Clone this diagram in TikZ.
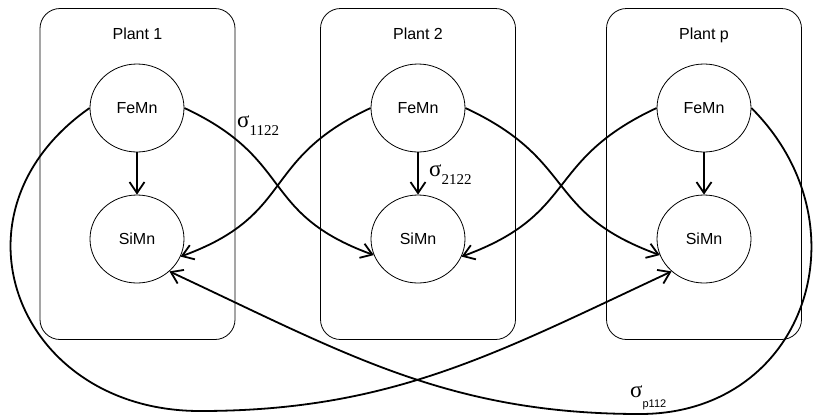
\documentclass[tikz,border=0pt]{standalone}
\usepackage{fontspec}
\setmainfont{Liberation Sans}
\newfontfamily\grkfont{Liberation Serif}
\usetikzlibrary{arrows.meta,shapes.geometric}

\tikzset{
  plantbox/.style={draw,line width=0.8bp,rounded corners=20bp,minimum width=195bp,minimum height=331bp,inner sep=0pt},
  elem/.style={draw,ellipse,line width=0.8bp,minimum width=94bp,minimum height=88bp,inner sep=0pt,font=\fontsize{16bp}{19bp}\selectfont},
  plantlabel/.style={anchor=base,inner sep=0pt,font=\fontsize{16bp}{19bp}\selectfont},
  link/.style={line width=1.8bp,-{Straight Barb[length=11bp,width=15bp]}},
  siglabel/.style={anchor=base west,inner sep=0pt}
}
\newcommand{\sigmark}{{\grkfont\fontsize{23bp}{23bp}\selectfont σ}}

\begin{document}
\begin{tikzpicture}[x=1bp,y=1bp]
\useasboundingbox (0,0) rectangle (814,-417);

\node[plantbox] (b1) at (137.5,-174) {};
\node[plantbox] (b2) at (418,-174) {};
\node[plantbox] (bp) at (704,-174) {};
\node[plantlabel] (t1) at (137.5,-39) {Plant 1};
\node[plantlabel] (t2) at (418,-39) {Plant 2};
\node[plantlabel] (tp) at (704,-39) {Plant p};

\node[elem] (f1) at (137,-108) {FeMn};
\node[elem] (s1) at (137,-239) {SiMn};
\node[elem] (f2) at (418,-108) {FeMn};
\node[elem] (s2) at (418,-239) {SiMn};
\node[elem] (fp) at (704,-108) {FeMn};
\node[elem] (sp) at (704,-239) {SiMn};

\coordinate (lo1) at (200,-411);
\coordinate (lo2) at (640,-414);

\draw[link] (f1) -- (s1);
\draw[link] (f2) -- (s2);
\draw[link] (fp) -- (sp);

\draw[link] (f1.east) to[out=-25,in=160,looseness=1.3] (s2.200);
\draw[link] (f2.west) to[out=205,in=20,looseness=1.3] (s1.-22);
\draw[link] (f2.east) to[out=-25,in=160,looseness=1.3] (sp.200);
\draw[link] (fp.west) to[out=205,in=20,looseness=1.3] (s2.-22);
\draw[link] (f1.west) to[out=215,in=180,looseness=1.45] (lo1) to[out=0,in=205] (sp.225);
\draw[link] (fp.east) to[out=-45,in=0,looseness=1.3] (lo2) to[out=180,in=-25] (s1.-45);

\node[siglabel] (sg1) at (237,-127) {\sigmark\raisebox{-8bp}{\grkfont\fontsize{15bp}{15bp}\selectfont 1122}};
\node[siglabel] (sg2) at (429,-176) {\sigmark\raisebox{-8bp}{\grkfont\fontsize{15bp}{15bp}\selectfont 2122}};
\node[siglabel] (sgp) at (630,-397) {\sigmark\raisebox{-10bp}{\fontsize{11bp}{11bp}\selectfont p112}};
\end{tikzpicture}
\end{document}
